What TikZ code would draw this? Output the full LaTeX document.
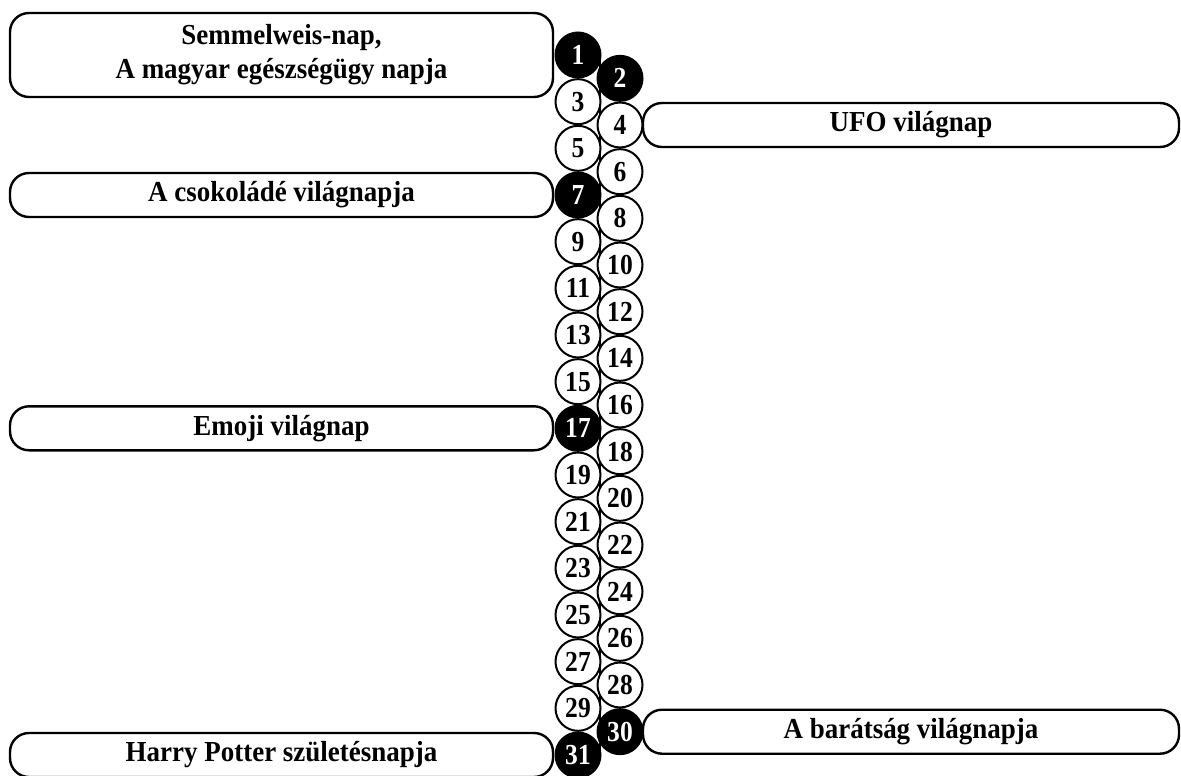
\documentclass[tikz,border=0pt]{standalone}
\usepackage{fontspec}
\setmainfont{Liberation Serif}[FakeStretch=0.93]
\newfontfamily\digitfont{Liberation Serif}[FakeStretch=0.88]
\begin{document}
\begin{tikzpicture}[x=1pt,y=-1pt,
  evbox/.style={draw=black, line width=2.4pt, rounded corners=19pt, minimum width=543pt, minimum height=44pt, inner sep=0pt, align=center, font=\fontsize{29}{34}\selectfont\bfseries},
  day/.style={circle, draw=black, line width=2pt, fill=white, minimum size=45pt, inner sep=0pt, font=\digitfont\fontsize{29}{29}\selectfont\bfseries},
  dark/.style={day, fill=black, text=white}]
\useasboundingbox (0,0) rectangle (1181,776);
\coordinate (ltop) at (600,55);
\coordinate (lbot) at (600,755);
\draw[line width=1.2pt] (ltop) -- (lbot);
% event boxes
\node[evbox, minimum height=84pt] (e1) at (281.5,55) {Semmelweis-nap,\\A magyar egészségügy napja};
\node[evbox, minimum width=536pt] (e4) at (911,125) {UFO világnap};
\node[evbox] (e7) at (281.5,195) {A csokoládé világnapja};
\node[evbox] (e17) at (281.5,428.3) {Emoji világnap};
\node[evbox, minimum width=536pt] (e30) at (911,731.7) {A barátság világnapja};
\node[evbox] (e31) at (281.5,755) {Harry Potter születésnapja};
% day circles
\foreach \n in {1,...,31}{
  \pgfmathsetmacro{\yy}{55+(\n-1)*23.333}
  \pgfmathtruncatemacro{\odd}{mod(\n,2)}
  \ifnum\odd=1 \def\xx{578}\else\def\xx{620}\fi
  \ifnum\n=1 \def\st{dark}\else
  \ifnum\n=2 \def\st{dark}\else
  \ifnum\n=7 \def\st{dark}\else
  \ifnum\n=17 \def\st{dark}\else
  \ifnum\n=30 \def\st{dark}\else
  \ifnum\n=31 \def\st{dark}\else
  \def\st{day}\fi\fi\fi\fi\fi\fi
  \node[\st] (d\n) at (\xx,\yy) {\n};
}
\end{tikzpicture}
\end{document}
